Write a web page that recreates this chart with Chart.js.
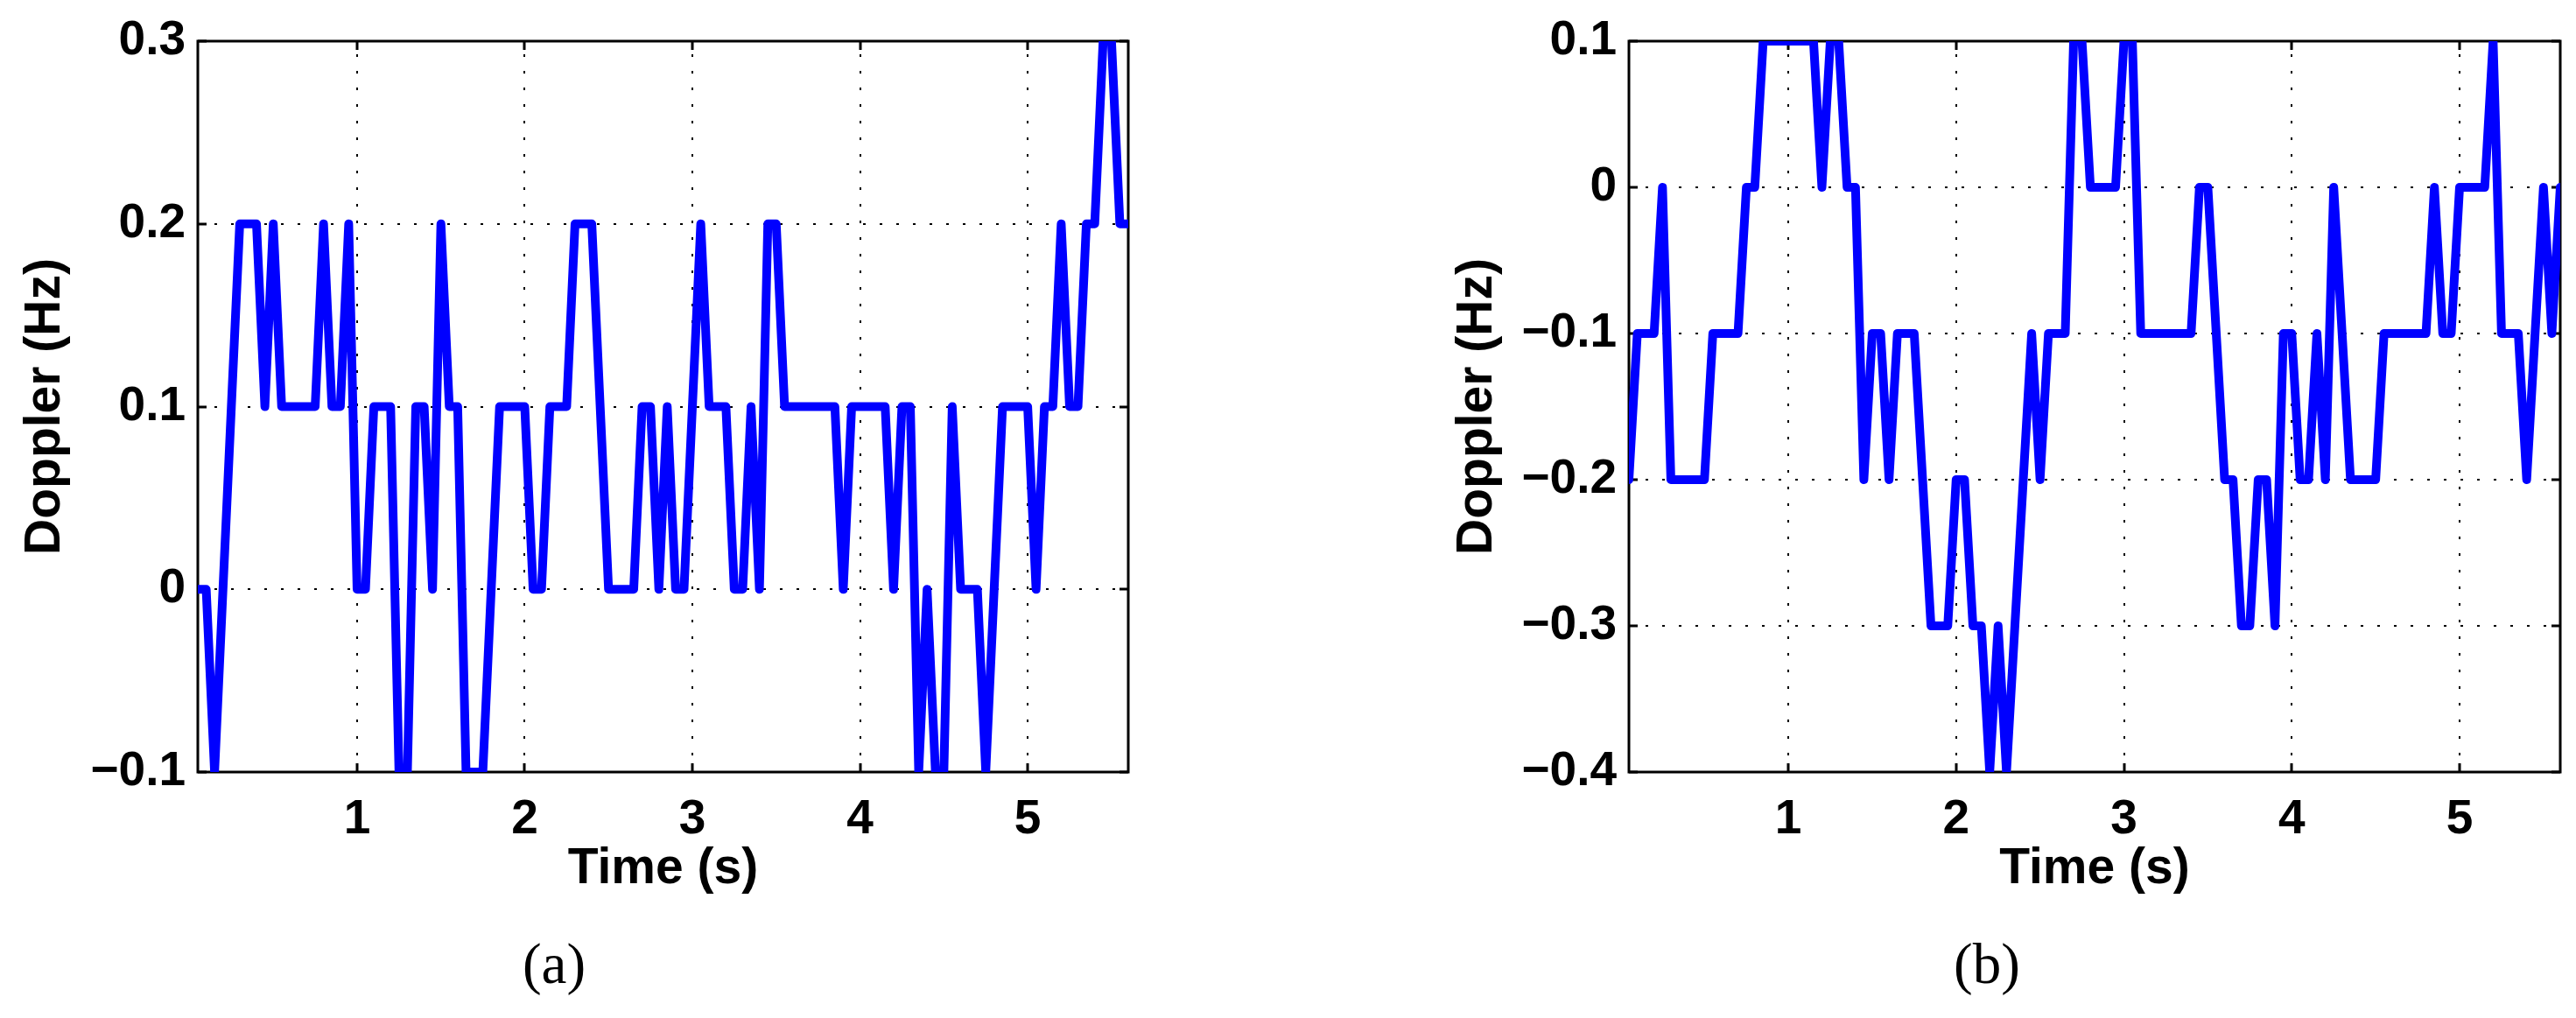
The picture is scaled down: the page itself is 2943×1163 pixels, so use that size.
<!DOCTYPE html>
<html>
<head>
<meta charset="utf-8">
<script src="https://cdn.jsdelivr.net/npm/chart.js@4.4.0/dist/chart.umd.min.js"></script>
<style>
  html, body { margin: 0; padding: 0; background: #fff; }
  #fig { position: relative; width: 2943px; height: 1163px; overflow: hidden; background: #fff; }
  canvas { position: absolute; top: 0; }
  .sub { position: absolute; top: 1069px; font-family: 'Liberation Serif', 'Times New Roman', serif;
         font-size: 65px; line-height: 65px; transform: translateX(-50%); white-space: nowrap; }
</style>
</head>
<body>
<div id="fig">
  <canvas id="chartA" width="1420" height="1163" style="left:0px"></canvas>
  <canvas id="chartB" width="1343" height="1163" style="left:1600px"></canvas>
  <div class="sub" style="left:633px">(a)</div>
  <div class="sub" style="left:2270px">(b)</div>
</div>
<script>
// sample times (s)
const timeS = [
  0.05, 0.10, 0.15, 0.20, 0.25, 0.30, 0.35, 0.40, 0.45, 0.50,
  0.55, 0.60, 0.65, 0.70, 0.75, 0.80, 0.85, 0.90, 0.95, 1.00,
  1.05, 1.10, 1.15, 1.20, 1.25, 1.30, 1.35, 1.40, 1.45, 1.50,
  1.55, 1.60, 1.65, 1.70, 1.75, 1.80, 1.85, 1.90, 1.95, 2.00,
  2.05, 2.10, 2.15, 2.20, 2.25, 2.30, 2.35, 2.40, 2.45, 2.50,
  2.55, 2.60, 2.65, 2.70, 2.75, 2.80, 2.85, 2.90, 2.95, 3.00,
  3.05, 3.10, 3.15, 3.20, 3.25, 3.30, 3.35, 3.40, 3.45, 3.50,
  3.55, 3.60, 3.65, 3.70, 3.75, 3.80, 3.85, 3.90, 3.95, 4.00,
  4.05, 4.10, 4.15, 4.20, 4.25, 4.30, 4.35, 4.40, 4.45, 4.50,
  4.55, 4.60, 4.65, 4.70, 4.75, 4.80, 4.85, 4.90, 4.95, 5.00,
  5.05, 5.10, 5.15, 5.20, 5.25, 5.30, 5.35, 5.40, 5.45, 5.50,
  5.55, 5.60
];

// Doppler (Hz), panel (a)
const dopplerA = [
  0, 0, -0.1, 0, 0.1, 0.2, 0.2, 0.2, 0.1, 0.2,
  0.1, 0.1, 0.1, 0.1, 0.1, 0.2, 0.1, 0.1, 0.2, 0,
  0, 0.1, 0.1, 0.1, -0.1, -0.1, 0.1, 0.1, 0, 0.2,
  0.1, 0.1, -0.1, -0.1, -0.1, 0, 0.1, 0.1, 0.1, 0.1,
  0, 0, 0.1, 0.1, 0.1, 0.2, 0.2, 0.2, 0.1, 0,
  0, 0, 0, 0.1, 0.1, 0, 0.1, 0, 0, 0.1,
  0.2, 0.1, 0.1, 0.1, 0, 0, 0.1, 0, 0.2, 0.2,
  0.1, 0.1, 0.1, 0.1, 0.1, 0.1, 0.1, 0, 0.1, 0.1,
  0.1, 0.1, 0.1, 0, 0.1, 0.1, -0.1, 0, -0.1, -0.1,
  0.1, 0, 0, 0, -0.1, 0, 0.1, 0.1, 0.1, 0.1,
  0, 0.1, 0.1, 0.2, 0.1, 0.1, 0.2, 0.2, 0.3, 0.3,
  0.2, 0.2
];

// Doppler (Hz), panel (b)
const dopplerB = [
  -0.2, -0.1, -0.1, -0.1, 0, -0.2, -0.2, -0.2, -0.2, -0.2,
  -0.1, -0.1, -0.1, -0.1, 0, 0, 0.1, 0.1, 0.1, 0.1,
  0.1, 0.1, 0.1, 0, 0.1, 0.1, 0, 0, -0.2, -0.1,
  -0.1, -0.2, -0.1, -0.1, -0.1, -0.2, -0.3, -0.3, -0.3, -0.2,
  -0.2, -0.3, -0.3, -0.4, -0.3, -0.4, -0.3, -0.2, -0.1, -0.2,
  -0.1, -0.1, -0.1, 0.1, 0.1, 0, 0, 0, 0, 0.1,
  0.1, -0.1, -0.1, -0.1, -0.1, -0.1, -0.1, -0.1, 0, 0,
  -0.1, -0.2, -0.2, -0.3, -0.3, -0.2, -0.2, -0.3, -0.1, -0.1,
  -0.2, -0.2, -0.1, -0.2, 0, -0.1, -0.2, -0.2, -0.2, -0.2,
  -0.1, -0.1, -0.1, -0.1, -0.1, -0.1, 0, -0.1, -0.1, 0,
  0, 0, 0, 0.1, -0.1, -0.1, -0.1, -0.2, -0.1, 0,
  -0.1, 0
];

const timeTicks = [1, 2, 3, 4, 5];
const yTicksA = [-0.1, 0, 0.1, 0.2, 0.3];
const yTicksB = [-0.4, -0.3, -0.2, -0.1, 0, 0.1];

const tickFont = { family: "'Liberation Sans', Arial, sans-serif", size: 55, weight: 'bold' };
const titleFont = { family: "'Liberation Sans', Arial, sans-serif", size: 57, weight: 'bold' };

function fmtTick(v) {
  if (Math.abs(v) < 1e-9) return '0';
  return (v < 0 ? '\u2212' : '') + Math.abs(v).toFixed(1);
}

// MATLAB style box, inward ticks and dotted grid
const matlabAxes = {
  id: 'matlabAxes',
  beforeDatasetsDraw(chart) {
    const { ctx, chartArea: a, scales: { x, y } } = chart;
    ctx.save();
    ctx.strokeStyle = '#000';
    ctx.lineWidth = 2;
    ctx.setLineDash([3, 16]);
    ctx.beginPath();
    x.ticks.forEach(t => {
      const px = Math.round(x.getPixelForValue(t.value));
      ctx.moveTo(px, a.bottom);
      ctx.lineTo(px, a.top);
    });
    y.ticks.forEach(t => {
      const py = Math.round(y.getPixelForValue(t.value));
      ctx.moveTo(a.left, py);
      ctx.lineTo(a.right, py);
    });
    ctx.stroke();
    ctx.setLineDash([]);

    const tl = 10;
    ctx.lineWidth = 3;
    ctx.beginPath();
    x.ticks.forEach(t => {
      const px = Math.round(x.getPixelForValue(t.value));
      ctx.moveTo(px, a.bottom); ctx.lineTo(px, a.bottom - tl);
      ctx.moveTo(px, a.top); ctx.lineTo(px, a.top + tl);
    });
    y.ticks.forEach(t => {
      const py = Math.round(y.getPixelForValue(t.value));
      ctx.moveTo(a.left, py); ctx.lineTo(a.left + tl, py);
      ctx.moveTo(a.right, py); ctx.lineTo(a.right - tl, py);
    });
    ctx.stroke();
    ctx.strokeRect(a.left, a.top, a.right - a.left, a.bottom - a.top);
    ctx.restore();
  }
};

function makeChart(id, values, yMin, yMax, yTicks, yAxisWidth, padRight, titlePad) {
  const points = timeS.map((t, i) => ({ x: t, y: values[i] }));
  return new Chart(document.getElementById(id), {
    type: 'line',
    data: {
      datasets: [{
        data: points,
        borderColor: '#0000ff',
        borderWidth: 10,
        borderJoinStyle: 'round',
        borderCapStyle: 'round',
        pointRadius: 0,
        tension: 0,
        fill: false,
        clip: 0
      }]
    },
    options: {
      responsive: false,
      animation: false,
      events: [],
      layout: { padding: { left: 0, top: 44, right: padRight, bottom: 136 } },
      plugins: { legend: { display: false }, tooltip: { enabled: false } },
      scales: {
        x: {
          type: 'linear',
          bounds: 'data',
          min: 0.05,
          max: 5.6,
          afterBuildTicks: s => { s.ticks = timeTicks.map(v => ({ value: v })); },
          afterFit: s => { s.height = 145; },
          grid: { display: false, drawTicks: false },
          border: { display: false },
          ticks: { autoSkip: false, maxRotation: 0, padding: 22, color: '#000', font: tickFont },
          title: { display: true, text: 'Time (s)', color: '#000', font: titleFont, padding: 0 }
        },
        y: {
          type: 'linear',
          bounds: 'data',
          min: yMin,
          max: yMax,
          afterBuildTicks: s => { s.ticks = yTicks.map(v => ({ value: v })); },
          afterFit: s => { s.width = yAxisWidth; },
          grid: { display: false, drawTicks: false },
          border: { display: false },
          ticks: { autoSkip: false, padding: 14, color: '#000', font: tickFont, callback: fmtTick },
          title: { display: true, text: 'Doppler (Hz)', color: '#000', font: titleFont,
                   padding: { top: titlePad, bottom: 0 } }
        }
      }
    },
    plugins: [matlabAxes]
  });
}

makeChart('chartA', dopplerA, -0.1, 0.3, yTicksA, 226, 131, 18);
makeChart('chartB', dopplerB, -0.4, 0.1, yTicksB, 261, 18, 54);
</script>
</body>
</html>
